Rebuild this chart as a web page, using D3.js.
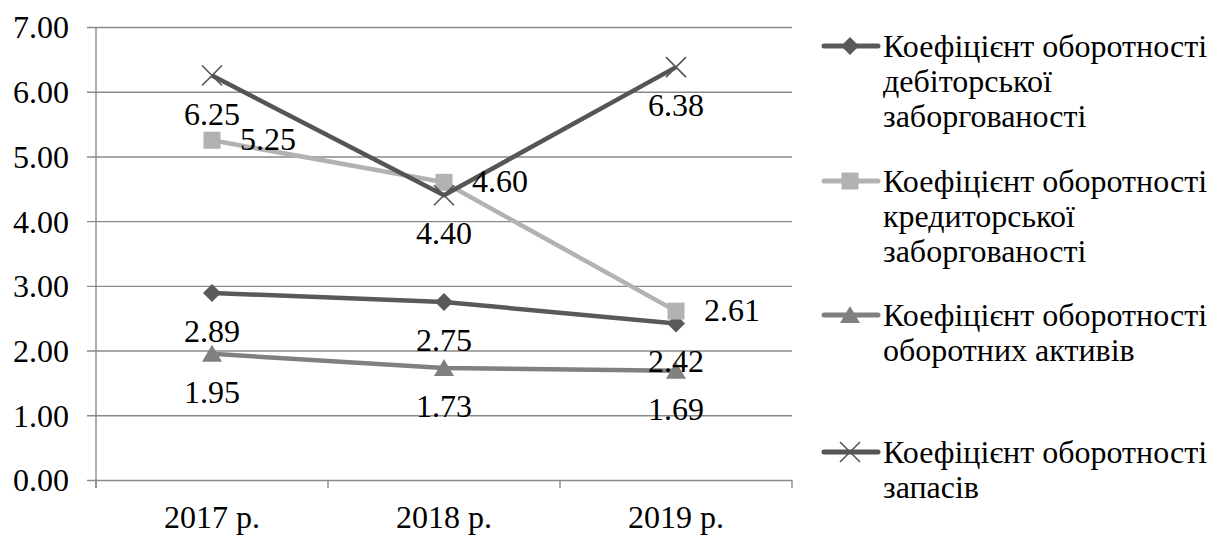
<!DOCTYPE html>
<html>
<head>
<meta charset="utf-8">
<script src="https://cdnjs.cloudflare.com/ajax/libs/d3/7.8.5/d3.min.js"></script>
</head>
<body style="margin:0;padding:0;background:#ffffff">
<svg id="chart" width="1222" height="536" style="display:block"></svg>
<script>
// Turnover ratios by year
const years = ["2017 р.", "2018 р.", "2019 р."];
const receivablesTurnover = [2.89, 2.75, 2.42];
const payablesTurnover = [5.25, 4.60, 2.61];
const currentAssetsTurnover = [1.95, 1.73, 1.69];
const inventoryTurnover = [6.25, 4.40, 6.38];
const yTicks = [0, 1, 2, 3, 4, 5, 6, 7];

const seriesNames = [
  ["Коефіцієнт оборотності", "дебіторської", "заборгованості"],
  ["Коефіцієнт оборотності", "кредиторської", "заборгованості"],
  ["Коефіцієнт оборотності", "оборотних активів"],
  ["Коефіцієнт оборотності", "запасів"]
];
// label placement for each point: "below" or "right"
const labelPlacement = [
  ["below", "below", "below"],
  ["right", "right", "right"],
  ["below", "below", "below"],
  ["below", "below", "below"]
];

const series = [
  { values: receivablesTurnover, color: "#595959", marker: "diamond" },
  { values: payablesTurnover, color: "#b2b2b2", marker: "square" },
  { values: currentAssetsTurnover, color: "#808080", marker: "triangle" },
  { values: inventoryTurnover, color: "#555555", marker: "cross" }
];

const FONT = '"Liberation Serif"';
const FS = "32px";
const svg = d3.select("#chart").style("font-family", FONT);
const plot = { left: 96, right: 792, top: 27, bottom: 480 };

const x = d3.scaleBand().domain(years).range([plot.left, plot.right]).padding(0);
const y = d3.scaleLinear().domain([0, 7]).range([plot.bottom, plot.top]);
const cx = d => x(d) + x.bandwidth() / 2;

const gridColor = "#8a8a8a";

function label(sel) {
  return sel.style("font-family", FONT).style("font-size", FS).attr("fill", "#000");
}

// horizontal gridlines with left tick stubs
const yAxis = d3.axisLeft(y).tickValues(yTicks).tickFormat(d3.format(".2f"))
  .tickSize(-(plot.right - plot.left)).tickPadding(0);
const gy = svg.append("g").attr("transform", `translate(${plot.left},0)`).call(yAxis)
  .attr("font-family", null).attr("font-size", null);
gy.select(".domain").remove();
gy.selectAll(".tick line").attr("x1", -9).attr("stroke", gridColor).attr("stroke-width", 1.4);
gy.selectAll(".tick text").attr("x", -27).attr("dy", "0.34em").call(label);

// vertical axis line
svg.append("line")
  .attr("x1", plot.left).attr("x2", plot.left)
  .attr("y1", plot.top).attr("y2", plot.bottom + 8)
  .attr("stroke", gridColor).attr("stroke-width", 1.4);

// category boundary ticks under the x axis
const boundaries = years.map(d => x(d)).concat([x(years[years.length - 1]) + x.bandwidth()]);
svg.append("g").selectAll("line").data(boundaries).join("line")
  .attr("x1", d => d).attr("x2", d => d)
  .attr("y1", plot.bottom).attr("y2", plot.bottom + 8)
  .attr("stroke", gridColor).attr("stroke-width", 1.4);

// category labels
svg.append("g").selectAll("text").data(years).join("text")
  .attr("x", d => cx(d)).attr("y", 528)
  .attr("text-anchor", "middle").call(label)
  .text(d => d);

// marker shapes
function markerPath(type) {
  const p = d3.path();
  if (type === "diamond") {
    p.moveTo(0, -9); p.lineTo(9, 0); p.lineTo(0, 9); p.lineTo(-9, 0); p.closePath();
  } else if (type === "square") {
    p.rect(-8.5, -8.5, 17, 17);
  } else if (type === "triangle") {
    p.moveTo(0, -9); p.lineTo(10, 8); p.lineTo(-10, 8); p.closePath();
  } else if (type === "cross") {
    p.moveTo(-10, -10); p.lineTo(10, 10); p.moveTo(10, -10); p.lineTo(-10, 10);
  }
  return p.toString();
}
function drawMarker(g, type, color) {
  if (type === "cross") {
    g.append("path").attr("d", markerPath(type)).attr("fill", "none")
      .attr("stroke", color).attr("stroke-width", 1.6);
  } else {
    g.append("path").attr("d", markerPath(type)).attr("fill", color);
  }
}

const line = d3.line().x((d, i) => cx(years[i])).y(d => y(d));

// lines and markers, series by series
series.forEach(s => {
  const g = svg.append("g");
  g.append("path").datum(s.values).attr("d", line)
    .attr("fill", "none").attr("stroke", s.color).attr("stroke-width", 4.5)
    .attr("stroke-linejoin", "round");
  s.values.forEach((v, i) => {
    const m = g.append("g").attr("transform", `translate(${cx(years[i])},${y(v)})`);
    drawMarker(m, s.marker, s.color);
  });
});

// data labels on top
const labels = svg.append("g");
series.forEach((s, si) => {
  s.values.forEach((v, i) => {
    const px = cx(years[i]), py = y(v);
    const place = labelPlacement[si][i];
    labels.append("text")
      .attr("x", place === "right" ? px + 28 : px)
      .attr("y", place === "right" ? py + 10 : py + 49)
      .attr("text-anchor", place === "right" ? "start" : "middle")
      .call(label)
      .text(v.toFixed(2));
  });
});

// legend
const legendTop = [46, 181, 315, 452];
const legend = svg.append("g");
series.forEach((s, si) => {
  const g = legend.append("g").attr("transform", `translate(0,${legendTop[si]})`);
  g.append("line").attr("x1", 824).attr("x2", 878).attr("y1", 0).attr("y2", 0)
    .attr("stroke", s.color).attr("stroke-width", 5).attr("stroke-linecap", "round");
  const m = g.append("g").attr("transform", "translate(850,0)");
  drawMarker(m, s.marker, s.color);
  const t = g.append("text").attr("x", 883).attr("y", 11).call(label);
  seriesNames[si].forEach((ln, li) => {
    t.append("tspan").attr("x", 883).attr("dy", li === 0 ? 0 : 35).text(ln);
  });
});
</script>
</body>
</html>
